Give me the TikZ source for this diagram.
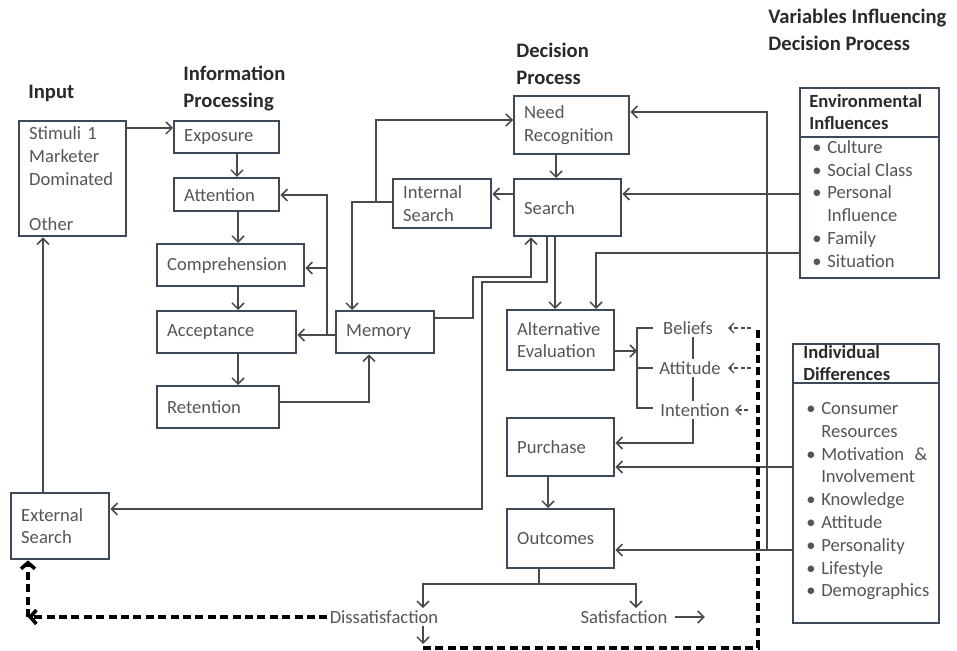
\documentclass[tikz,border=0pt]{standalone}
\usepackage{fontspec}
\setmainfont{Carlito}
\usepackage{tikz}
\usetikzlibrary{arrows.meta}
\usetikzlibrary{positioning}
\definecolor{boxc}{HTML}{3D4858}
\definecolor{txtc}{HTML}{555555}
\definecolor{hdrc}{HTML}{2A2A2A}
\definecolor{linec}{HTML}{4A4A4A}
\newcommand\bul{\textbullet\hspace{0.3em}}
\newcommand\ind{\hphantom{\textbullet\hspace{0.3em}}}
\begin{document}
\begin{tikzpicture}[
        x=0.5pt, y=-0.5pt,
        box/.style n args={2}{draw=boxc, line width=1.2pt, anchor=north west,
            text width=#1, minimum height=#2, inner xsep=5pt, inner ysep=0pt,
            align=left, text=txtc, font=\fontsize{9.3}{11.4}\selectfont},
        hdr/.style={anchor=north west, inner sep=0pt, align=left, text=hdrc,
            font=\bfseries\fontsize{10.3}{13.5}\selectfont},
        subhdr/.style={anchor=north west, inner sep=0pt, align=left, text=hdrc,
            font=\bfseries\fontsize{9.3}{11}\selectfont},
        items/.style={anchor=north west, inner sep=0pt, align=left, text=txtc,
            font=\fontsize{9.3}{11.4}\selectfont},
        lbl/.style={inner sep=1pt, text=txtc, font=\fontsize{9.3}{11.4}\selectfont},
        ln/.style={draw=linec, line width=0.75pt},
        arr/.style={ln, -{Straight Barb[length=3pt,width=6pt]}},
        sdash/.style={draw=linec, line width=0.7pt, dash pattern=on 2pt off 1.2pt,
            -{Straight Barb[length=2.5pt,width=5pt]}},
        tdash/.style={draw=black, line width=1.8pt, dash pattern=on 4pt off 2.2pt}
        ]
        \useasboundingbox (0,0) rectangle (957,651);

        % headings
        \node[hdr] (inph) at (28,85) {Input};
        \node[hdr] (infh) at (183,66) {Information\\Processing};
        \node[hdr] (dech) at (516,43) {Decision\\Process};
        \node[hdr] (varh) at (768,9) {Variables Influencing\\Decision Process};

        % information processing
        \node[box={43.5pt}{57.5pt}] (stim) at (18,120) {Stimuli 1\\Marketer\\Dominated\\\mbox{}\\Other};
        \node[box={42.5pt}{16pt}] (expo) at (173,120) {Exposure};
        \node[box={42.5pt}{16.5pt}] (attn) at (173,177) {Attention};
        \node[box={63.5pt}{21pt}] (comp) at (156,243) {Comprehension};
        \node[box={59.5pt}{21pt}] (acpt) at (156,310) {Acceptance};
        \node[box={51pt}{21pt}] (retn) at (156,385) {Retention};
        \node[box={39pt}{21pt}] (mem) at (335,310) {Memory};
        \node[box={39pt}{33pt}] (exts) at (10,492) {External\\Search};

        % decision process
        \node[box={39pt}{24.5pt}] (ints) at (392,178) {Internal\\Search};
        \node[box={47.5pt}{29pt}] (need) at (513,95) {Need\\Recognition};
        \node[box={43.5pt}{28.5pt}] (srch) at (513,178) {Search};
        \node[box={43.5pt}{30pt}] (alte) at (506,309) {Alternative\\Evaluation};
        \node[box={43.5pt}{29pt}] (purc) at (506,417) {Purchase};
        \node[box={43.5pt}{29.5pt}] (outc) at (506,508) {Outcomes};

        \node[lbl] (bel) at (688,328) {Beliefs};
        \node[lbl] (att) at (690,368) {Attitude};
        \node[lbl] (int) at (695,410) {Intention};
        \node[lbl] (dis) at (384,617) {Dissatisfaction};
        \node[lbl] (sat) at (624,617) {Satisfaction};

        % variables
        \node[box={59.5pt}{95pt}] (env) at (799,87) {};
        \draw[draw=boxc, line width=1.2pt] (env.west |- 0,137) -- (env.east |- 0,137);
        \node[subhdr] (envh) at (809,94) {Environmental\\Influences};
        \node[items] (envl) at (812,140) {\bul Culture\\\bul Social Class\\\bul Personal\\\ind Influence\\\bul Family\\\bul Situation};

        \node[box={63pt}{139.5pt}] (indv) at (792,343) {};
        \draw[draw=boxc, line width=1.2pt] (indv.west |- 0,383) -- (indv.east |- 0,383);
        \node[subhdr] (indh) at (803,345) {Individual\\Differences};
        \node[items, text width=60.5pt] (indl) at (806,402) {\bul Consumer\\\ind Resources\\\bul Motivation\hfill\&\\\ind Involvement\\\bul Knowledge\\\bul Attitude\\\bul Personality\\\bul Lifestyle\\\mbox{\bul Demographics}};

        % junctions
        \coordinate (jmem) at (327,335);
        \coordinate (jint) at (376,202);
        \coordinate (split) at (539,584);
        \coordinate (dtop) at (758,327);
        \coordinate (dbot) at (758,648);
        \coordinate (dleft) at (423,648);
        \coordinate (dcorner) at (28,617);

        % information processing flow
        \draw[arr] (stim.east |- 0,128) -- (expo.west |- 0,128);
        \draw[arr] (expo.south -| 237,0) -- (attn.north -| 237,0);
        \draw[arr] (attn.south -| 238,0) -- (comp.north -| 238,0);
        \draw[arr] (comp.south -| 238,0) -- (acpt.north -| 238,0);
        \draw[arr] (acpt.south -| 238,0) -- (retn.north -| 238,0);
        \draw[arr] (retn.east |- 0,402) -| (mem.south -| 369,0);
        \draw[arr] (mem.west |- jmem) -- (acpt.east |- jmem);
        \draw[arr] (jmem) |- (attn.east |- 0,195);
        \draw[arr] (jmem |- 0,268) -- (comp.east |- 0,268);
        \draw[arr] (exts.north -| 43,0) -- (stim.south -| 43,0);

        % decision process flow
        \draw[arr] (need.south -| 556,0) -- (srch.north -| 556,0);
        \draw[arr] (srch.west |- 0,194) -- (ints.east |- 0,194);
        \draw[arr] (ints.west |- jint) -| (mem.north -| 352,0);
        \draw[arr] (jint) |- (need.west |- 0,120);
        \draw[arr] (mem.east |- 0,318) -| (473,277) -| (srch.south -| 531,0);
        \draw[arr] (srch.south -| 547,0) |- (482,282) |- (exts.east |- 0,509);
        \draw[arr] (srch.south -| 555,0) -- (alte.north -| 555,0);
        \draw[arr] (alte.east |- 0,351) -- (637,351);
        \draw[ln] (653,328) -- (637,328) -- (637,408) -- (653,408);
        \draw[ln] (637,368) -- (653,368);
        \draw[ln] (bel.south -| 693,0) -- (att.north -| 693,0);
        \draw[ln] (att.south -| 693,0) -- (int.north -| 693,0);
        \draw[arr] (int.south -| 693,0) |- (purc.east |- 0,443);
        \draw[arr] (purc.south -| 548,0) -- (outc.north -| 548,0);
        \draw[ln] (outc.south -| split) -- (split);
        \draw[arr] (split) -| (dis.north -| 423,0);
        \draw[arr] (split) -| (sat.north -| 636,0);
        \draw[arr] ([xshift=2.5pt]sat.east) -- ++(30,0);
        \draw[arr] (dis.south -| 423,0) -- ([yshift=2pt]dleft);

        % influences
        \draw[arr] (env.west |- 0,194) -- (srch.east |- 0,194);
        \draw[arr] (env.west |- 0,253) -| (alte.north -| 596,0);
        \draw[arr] (indv.west |- 0,467) -- (purc.east |- 0,467);
        \draw[arr] (indv.west |- 0,550) -- (outc.east |- 0,550);
        \draw[arr] (767,550) |- (need.east |- 0,112);

        % feedback
        \draw[tdash] (dleft) -- (dbot) -- (dtop);
        \draw[sdash] (dtop |- bel) ++(-7,0) -- (728,328);
        \draw[sdash] (dtop |- att) ++(-7,0) -- (728,368);
        \draw[sdash] (dtop |- int) ++(-10,0) -- (735,410);
        \draw[tdash, -{Straight Barb[length=3pt,width=7pt]}] (dis.west) -- (dcorner);
        \draw[tdash, -{Straight Barb[length=3pt,width=7pt]}] (dcorner) -- (exts.south -| dcorner);
\end{tikzpicture}
\end{document}
